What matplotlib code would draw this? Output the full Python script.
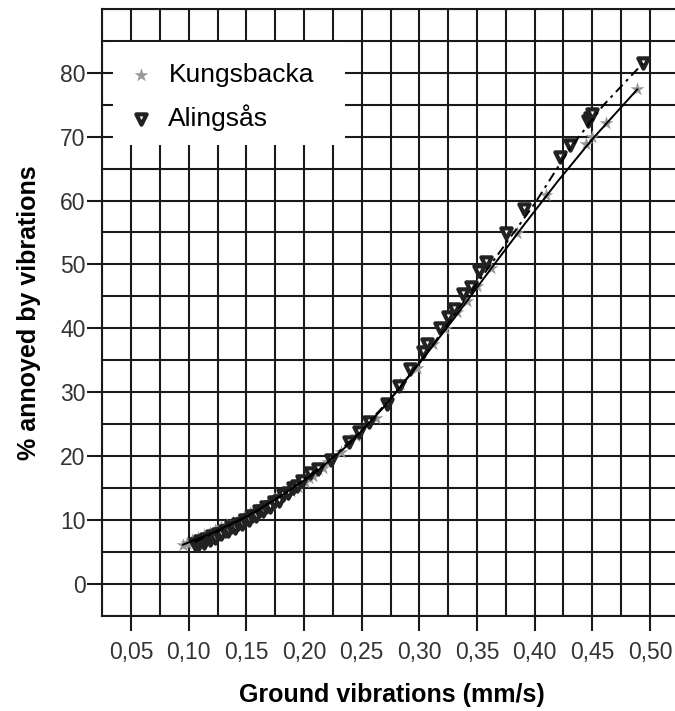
import matplotlib
matplotlib.use("Agg")
from matplotlib import pyplot as plt
from matplotlib.patches import Rectangle

# annoyance vs ground vibration, two areas, with fitted curves

k_x = [0.095, 0.098, 0.101, 0.103, 0.106, 0.108, 0.111, 0.113, 0.116, 0.118,
       0.121, 0.123, 0.126, 0.128, 0.131, 0.133, 0.136, 0.138, 0.141, 0.143,
       0.146, 0.148, 0.151, 0.153, 0.156, 0.158, 0.161, 0.163, 0.166, 0.168,
       0.171, 0.174, 0.177, 0.180, 0.183, 0.186, 0.189, 0.192, 0.195, 0.198,
       0.201, 0.204, 0.208, 0.212, 0.216, 0.221, 0.232, 0.245, 0.262, 0.283,
       0.298, 0.312, 0.322, 0.333, 0.341, 0.350, 0.362, 0.385, 0.410, 0.445,
       0.450, 0.462, 0.489]
k_y = [6.0, 6.4, 6.3, 6.9, 6.7, 7.2, 7.0, 7.6, 7.4, 8.0,
       7.8, 8.4, 8.2, 8.8, 8.6, 9.2, 9.0, 9.6, 9.5, 10.0,
       9.9, 10.5, 10.4, 11.0, 10.9, 11.5, 11.4, 12.0, 11.9, 12.5,
       12.4, 13.2, 13.1, 13.9, 13.8, 14.6, 14.5, 15.3, 15.2, 16.0,
       15.9, 16.5, 16.9, 17.9, 18.1, 19.0, 20.6, 23.1, 26.0, 31.2,
       33.8, 37.6, 39.8, 42.5, 44.3, 46.6, 49.5, 54.9, 60.8, 68.9,
       69.9, 72.2, 77.4]

a_x = [0.105, 0.108, 0.110, 0.113, 0.115, 0.118, 0.120, 0.123, 0.125, 0.128,
       0.131, 0.134, 0.137, 0.140, 0.143, 0.146, 0.149, 0.152, 0.155, 0.158,
       0.161, 0.164, 0.167, 0.170, 0.174, 0.178, 0.182, 0.186, 0.190, 0.194,
       0.198, 0.2055, 0.212, 0.223, 0.239, 0.248, 0.256, 0.272, 0.282, 0.292,
       0.303, 0.307, 0.318, 0.325, 0.330, 0.338, 0.345, 0.352, 0.358, 0.375,
       0.391, 0.422, 0.431, 0.446, 0.448, 0.450, 0.494]
a_y = [6.2, 6.0, 6.6, 6.4, 7.0, 6.8, 7.4, 7.2, 7.8, 7.7,
       8.3, 8.2, 8.8, 8.7, 9.3, 9.3, 9.9, 9.9, 10.6, 10.6,
       11.3, 11.3, 12.0, 12.0, 12.8, 13.0, 13.9, 14.2, 15.0, 15.3,
       16.1, 17.3, 18.0, 19.3, 22.2, 23.7, 25.3, 28.1, 31.0, 33.6,
       36.2, 37.5, 40.0, 41.7, 43.0, 45.3, 46.5, 49.0, 50.4, 54.9,
       58.7, 66.8, 68.7, 72.5, 73.0, 73.5, 81.5]

# fitted curves
k_fit_x = [0.095, 0.12, 0.15, 0.18, 0.21, 0.24, 0.27, 0.30, 0.33, 0.36, 0.39, 0.42, 0.45, 0.489]
k_fit_y = [6.1, 7.9, 10.5, 13.7, 17.4, 22.0, 27.8, 34.5, 41.5, 48.8, 56.0, 63.0, 69.6, 77.4]
a_fit_x = [0.105, 0.13, 0.16, 0.19, 0.22, 0.25, 0.28, 0.31, 0.34, 0.37, 0.40, 0.43, 0.46, 0.494]
a_fit_y = [6.5, 8.6, 11.4, 15.0, 19.0, 24.0, 30.0, 37.0, 44.5, 52.0, 59.5, 68.0, 75.0, 81.5]

x_ticks = [0.05, 0.10, 0.15, 0.20, 0.25, 0.30, 0.35, 0.40, 0.45, 0.50]
x_labels = ["0,05", "0,10", "0,15", "0,20", "0,25", "0,30", "0,35", "0,40", "0,45", "0,50"]
y_ticks = [0, 10, 20, 30, 40, 50, 60, 70, 80]

plt.rcParams['font.family'] = ['Liberation Sans', 'DejaVu Sans']

fig = plt.figure(figsize=(6.75, 7.11), dpi=100)
W, H = 675, 711
ax_w, ax_h = 576.3, 606.5
ax = fig.add_axes([102.4 / W, (H - 615.5) / H, ax_w / W, ax_h / H])

ax.set_xlim(0.025, 0.525)
ax.set_ylim(-5, 90)

ax.set_xticks(x_ticks)
ax.set_xticklabels(x_labels)
ax.set_xticks([0.025 + 0.025 * i for i in range(21)], minor=True)
ax.set_yticks(y_ticks)
ax.set_yticks([-5 + 5 * i for i in range(20)], minor=True)
ax.grid(which='both', color='#1a1a1a', linewidth=1.5, zorder=0)
ax.set_axisbelow(True)

ax.tick_params(which='major', length=11, width=1.5, color='#1a1a1a',
               labelsize=16.5, labelcolor='#333333')
ax.tick_params(axis='x', which='major', pad=7)
ax.tick_params(axis='y', which='major', pad=1)
ax.tick_params(which='minor', length=0)
for s in ax.spines.values():
    s.set_color('#1a1a1a')
    s.set_linewidth(1.5)

ax.scatter(k_x, k_y, marker='*', s=110, color='#999999', linewidths=0,
           zorder=3, label='Kungsbacka')
ax.scatter(a_x, a_y, marker='v', s=55, facecolors='white', edgecolors='#222222',
           linewidths=3, zorder=4, label='Alingsås')
ax.plot(k_fit_x, k_fit_y, color='black', linewidth=1.4, zorder=5)
ax.plot(a_fit_x, a_fit_y, color='black', linewidth=1.4, linestyle=(0, (5, 2.5, 1.5, 2.5)), zorder=5)

# white box behind the legend, hiding the grid
box = Rectangle(((113 - 102.4) / ax_w, 1 - (145 - 9) / ax_h), (345 - 113) / ax_w, (145 - 42) / ax_h,
                transform=ax.transAxes, facecolor='white', edgecolor='none', zorder=1.5)
ax.add_patch(box)

leg = ax.legend(loc='upper left', bbox_to_anchor=(0.0184, 0.9456), borderaxespad=0,
                fontsize=19, frameon=False, borderpad=0.8, handlelength=0.5,
                handletextpad=0.8, labelspacing=0.65, scatterpoints=1)
leg.set_zorder(6)

ax.set_xlabel('Ground vibrations (mm/s)', fontsize=18, fontweight='bold')
ax.xaxis.set_label_coords(0.5025, -(683 - 615.5) / ax_h)
ax.set_ylabel('% annoyed by vibrations', fontsize=18, fontweight='bold', labelpad=14)

fig.savefig('out.png', dpi=100)
